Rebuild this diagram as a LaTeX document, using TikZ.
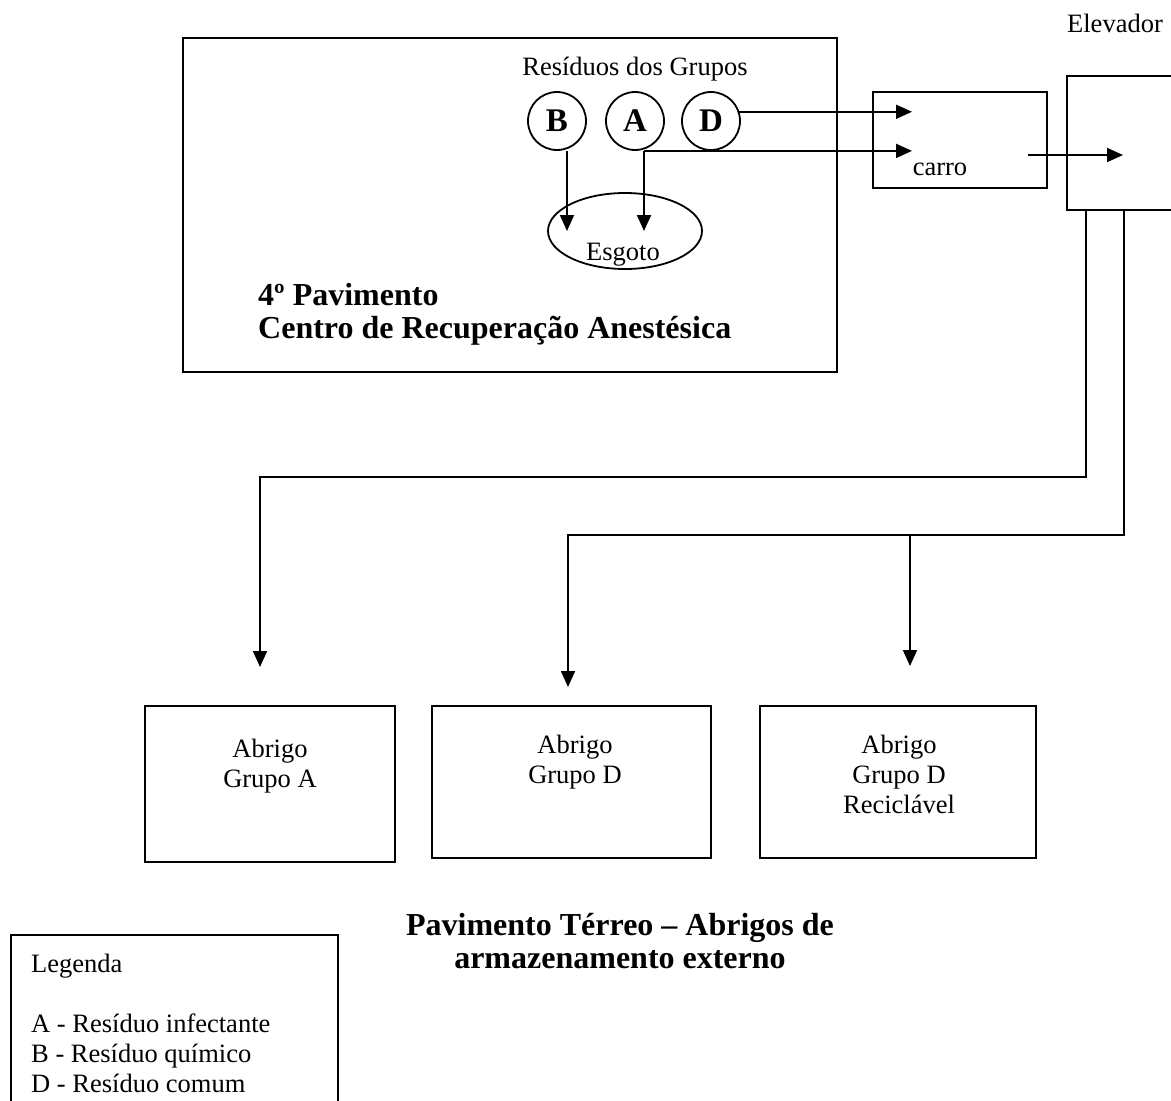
\documentclass[tikz,border=0pt]{standalone}
\usepackage{fontspec}
\setmainfont{Liberation Serif}
\usetikzlibrary{arrows.meta,shapes.geometric,positioning}

\tikzset{
    caixa/.style = {draw, rectangle, line width = 1.8pt, inner sep = 0pt},
    grupo/.style = {draw, circle, line width = 1.8pt, minimum size = 58pt, inner sep = 0pt, font = \fontsize{33}{34}\selectfont\bfseries},
    seta/.style = {line width = 1.8pt, -{Triangle[length = 16pt, width = 14pt]}},
    texto/.style = {font = \fontsize{26.5}{30}\selectfont, align = center, inner sep = 0pt},
    titulo/.style = {font = \fontsize{32}{33}\selectfont\bfseries, inner sep = 0pt}
}

\begin{document}
\begin{tikzpicture}[x = 1pt, y = -1pt]
                \clip (0, 0) rectangle (1171, 1101);
                % 4o pavimento
                \node[caixa, minimum width = 654pt, minimum height = 334pt] (piso) at (510, 205) {};
                \node[texto, anchor = base] (residuos) at (635, 75) {Resíduos dos Grupos};
                \node[grupo] (B) at (557, 121) {B};
                \node[grupo] (A) at (635, 121) {A};
                \node[grupo] (D) at (711, 121) {D};
                \node[caixa, ellipse, minimum width = 154pt, minimum height = 76pt] (esgoto) at (625, 231) {};
                \node[texto, anchor = base] (esgototxt) at (623, 260) {Esgoto};
                \node[titulo, anchor = north west, align = left] (pisotxt) at (258, 283) {4º Pavimento\\Centro de Recuperação Anestésica};
                % carro e elevador
                \node[caixa, minimum width = 174pt, minimum height = 96pt] (carro) at (960, 140) {};
                \node[texto, anchor = base] (carrotxt) at (940, 175) {carro};
                \node[caixa, minimum width = 150pt, minimum height = 134pt] (elev) at (1142, 143) {};
                \node[texto, anchor = base] (elevtxt) at (1115, 32) {Elevador};
                \coordinate (entra) at (912, 0);
                \coordinate (saicarro) at (1028, 155);
                \coordinate (chegaelev) at (1123, 155);
                % abrigos
                \node[caixa, minimum width = 250pt, minimum height = 156pt] (abrigoA) at (270, 784) {};
                \node[caixa, minimum width = 279pt, minimum height = 152pt] (abrigoD) at (571.5, 782) {};
                \node[caixa, minimum width = 276pt, minimum height = 152pt] (abrigoR) at (898, 782) {};
                \node[texto, anchor = north] (abrigoAtxt) at (270, 739) {Abrigo\\Grupo A};
                \node[texto, anchor = north] (abrigoDtxt) at (575, 735) {Abrigo\\Grupo D};
                \node[texto, anchor = north] (abrigoRtxt) at (899, 735) {Abrigo\\Grupo D\\Reciclável};
                \coordinate (setaA) at (260, 667);
                \coordinate (setaD) at (568, 687);
                \coordinate (ramo) at (910, 534);
                \coordinate (setaR) at (910, 666);
                \node[titulo, anchor = north, align = center] (terreo) at (620, 913) {Pavimento Térreo – Abrigos de\\armazenamento externo};
                % legenda
                \node[caixa, anchor = north west, minimum width = 327pt, minimum height = 200pt] (legenda) at (10, 934) {};
                \node[texto, anchor = north west, align = left] (legendatxt) at (31, 954) {Legenda\\[30pt]A - Resíduo infectante\\B - Resíduo químico\\D - Resíduo comum};
                % fluxos
                \draw[seta] ([xshift = 10pt]B.south) -- ([xshift = 10pt]B.south |- esgoto.center);
                \draw[seta] ([xshift = 9pt]A.south) -- ([xshift = 9pt]A.south |- esgoto.center);
                \draw[seta] ([xshift = 9pt]A.south) -- (entra |- A.south);
                \draw[seta] (D.18) -- (D.18 -| entra);
                \draw[seta] (saicarro) -- (chegaelev);
                \draw[seta] ([xshift = 20pt]elev.south west) -- ++(0, 266) -| (setaA);
                \draw[seta] ([xshift = 58pt]elev.south west) -- ++(0, 324) -| (setaD);
                \draw[seta] (ramo) -- (setaR);
\end{tikzpicture}
\end{document}
